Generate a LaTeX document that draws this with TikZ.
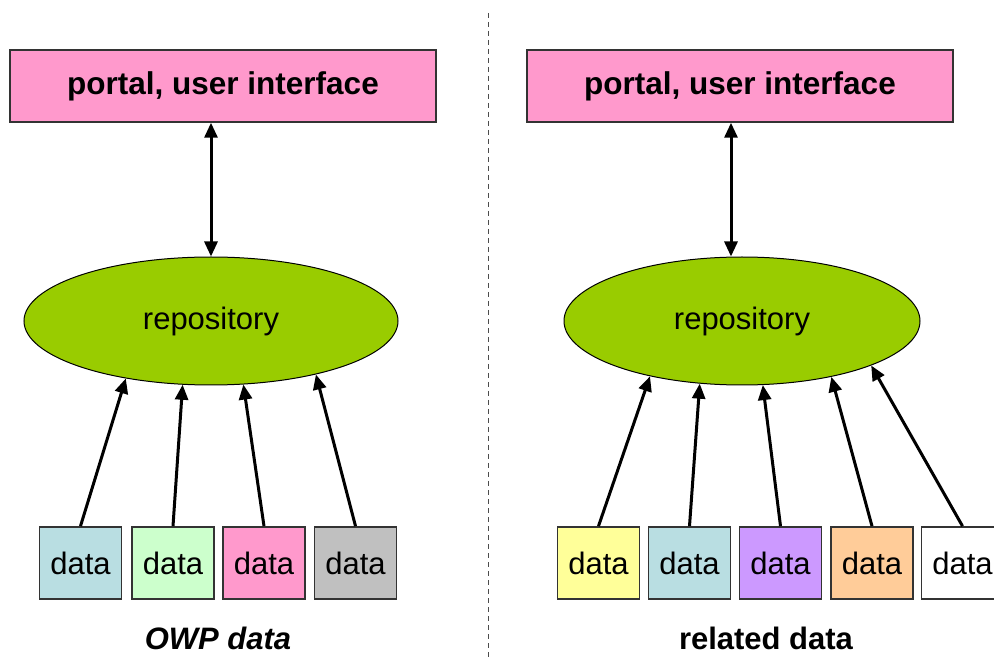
\documentclass[tikz,border=0pt]{standalone}
\usepackage{fontspec}
\setmainfont{Liberation Sans}
\usetikzlibrary{shapes,arrows.meta}
\definecolor{portalpink}{HTML}{FF99CC}
\definecolor{repogreen}{HTML}{99CC00}
\definecolor{paleblue}{HTML}{B9DEE2}
\definecolor{palegreen}{HTML}{CCFFCC}
\definecolor{palegray}{HTML}{C0C0C0}
\definecolor{paleyellow}{HTML}{FFFF99}
\definecolor{lavender}{HTML}{CC99FF}
\definecolor{paletan}{HTML}{FFCC99}
\tikzset{
portal/.style={
	  draw=black!80, line width=1.5pt, fill=portalpink, minimum width=426pt,
	    minimum height=72pt, font=\fontsize{31.5}{36}\selectfont\bfseries},
repo/.style={
	  draw, line width=1pt, ellipse, fill=repogreen, inner sep=0pt,
	    minimum height=128pt, font=\fontsize{31}{36}\selectfont},
databox/.style={
	  draw=black!80, line width=1.8pt, minimum width=82pt, minimum height=72pt,
	    inner sep=0pt, font=\fontsize{31}{36}\selectfont},
feed/.style={line width=3pt, -{Triangle[length=15pt,width=13pt]}},
link/.style={line width=3pt, {Triangle[length=15pt,width=13pt]}-{Triangle[length=15pt,width=13pt]}},
caption/.style={anchor=base, font=\fontsize{31}{36}\selectfont\bfseries}
}

\begin{document}
\begin{tikzpicture}[x=1pt, y=1pt]
	\useasboundingbox (0,0) rectangle (994,657);
	% left half
	\node[portal] (portalL) at (223,571) {portal, user interface};
	\node[repo, minimum width=374pt] (repoL) at (211,336) {repository};
	\node[databox, fill=paleblue] (dataLa) at (80.5,94) {data};
	\node[databox, fill=palegreen] (dataLb) at (173,94) {data};
	\node[databox, fill=portalpink] (dataLc) at (264,94) {data};
	\node[databox, fill=palegray] (dataLd) at (355.5,94) {data};
	\node[caption] (capL) at (218,8) {\itshape OWP data};
	\draw[link] (repoL.north) -- (repoL.north |- portalL.south);
	\draw[feed] (dataLa.north) -- (repoL.214);
	\draw[feed] (dataLb.north) -- (repoL.246);
	\draw[feed] (dataLc.north) -- (repoL.297);
	\draw[feed] (dataLd.north) -- (repoL.333);
	% separator
	\coordinate (sepTop) at (488,644);
	\coordinate (sepBot) at (488,0);
	\draw[black!70, line width=1pt, dash pattern=on 5pt off 4pt] (sepTop) -- (sepBot);
	% right half
	\node[portal] (portalR) at (740,571) {portal, user interface};
	\node[repo, minimum width=356pt] (repoR) at (742,336) {repository};
	\node[databox, fill=paleyellow] (dataRa) at (598.5,94) {data};
	\node[databox, fill=paleblue] (dataRb) at (689.5,94) {data};
	\node[databox, fill=lavender] (dataRc) at (780.5,94) {data};
	\node[databox, fill=paletan] (dataRd) at (872,94) {data};
	\node[databox, fill=white] (dataRe) at (962.5,94) {data};
	\node[caption] (capR) at (766,8) {related data};
	\draw[link] ([xshift=-11pt]repoR.north) -- ([xshift=-11pt]repoR.north |- portalR.south);
	\draw[feed] (dataRa.north) -- (repoR.211);
	\draw[feed] (dataRb.north) -- (repoR.236);
	\draw[feed] (dataRc.north) -- (repoR.288);
	\draw[feed] (dataRd.north) -- (repoR.328);
	\draw[feed] (dataRe.north) -- (repoR.341);
\end{tikzpicture}
\end{document}
